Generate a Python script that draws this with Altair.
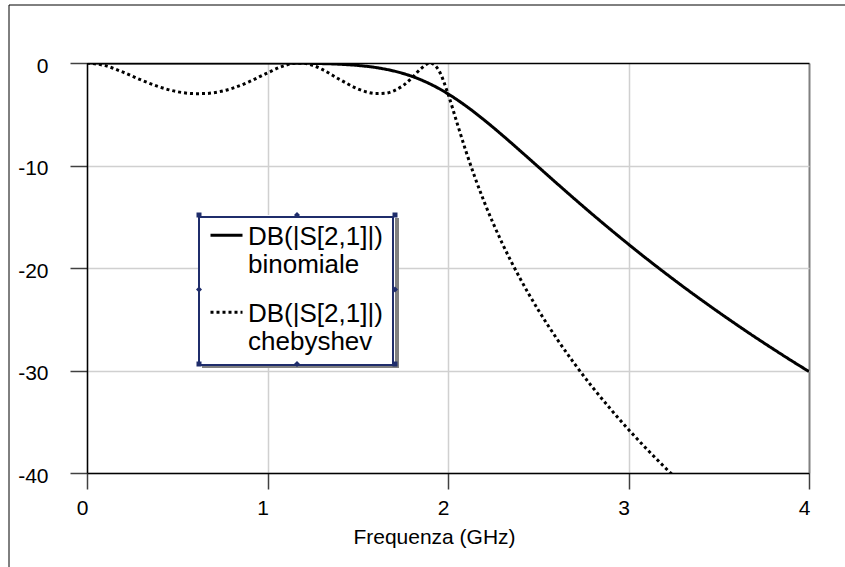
import altair as alt
import pandas as pd

# ---- data ----
SERIES = ["binomiale", "chebyshev"]
LABEL_PREFIX = "DB(|S[2,1]|)"
X_TITLE = "Frequenza (GHz)"
X_TICKS = [0, 1, 2, 3, 4]
Y_TICKS = [0, -10, -20, -30, -40]

FREQ_BIN = [0.0, 0.5, 1.0, 1.1, 1.2, 1.3, 1.4, 1.5, 1.6, 1.7, 1.8, 1.9, 2.0,
            2.1, 2.2, 2.3, 2.4, 2.5, 2.6, 2.7, 2.8, 2.9, 3.0, 3.1, 3.2, 3.3,
            3.4, 3.5, 3.6, 3.7, 3.8, 3.9, 4.0]
DB_BIN = [0.0, 0.0, -0.004, -0.011, -0.026, -0.058, -0.121, -0.238, -0.442,
          -0.782, -1.299, -2.037, -3.010, -4.198, -5.556, -7.029, -8.568,
          -10.134, -11.699, -13.244, -14.761, -16.241, -17.683, -19.09,
          -20.451, -21.78, -23.066, -24.32, -25.539, -26.73, -27.882, -29.01,
          -30.103]

FREQ_CHEB = [0.0, 0.1, 0.2, 0.3, 0.4, 0.5, 0.6, 0.65, 0.7, 0.8, 0.9, 1.0, 1.1,
             1.15, 1.2, 1.25, 1.3, 1.4, 1.5, 1.55, 1.6, 1.65, 1.7, 1.75, 1.8,
             1.85, 1.9, 1.95, 2.0, 2.05, 2.1, 2.15, 2.2, 2.3, 2.4, 2.5, 2.6,
             2.7, 2.8, 2.9, 3.0, 3.1, 3.2, 3.3]
DB_CHEB = [0.0, -0.257, -0.897, -1.659, -2.33, -2.80, -2.99, -2.984, -2.90,
           -2.50, -1.82, -0.965, -0.219, -0.027, -0.025, -0.226, -0.600,
           -1.607, -2.527, -2.832, -2.987, -2.958, -2.71, -2.211, -1.454,
           -0.552, -0.001, -0.750, -3.01, -5.84, -8.64, -11.20, -13.52,
           -17.57, -21.04, -24.09, -26.82, -29.32, -31.62, -33.75, -35.76,
           -37.64, -39.43, -41.12]

df = pd.concat([
    pd.DataFrame({"f": FREQ_BIN, "db": DB_BIN, "s": SERIES[0]}),
    pd.DataFrame({"f": FREQ_CHEB, "db": DB_CHEB, "s": SERIES[1]}),
], ignore_index=True)

FONT = "Liberation Sans"
NAVY = "#1f2d6b"
W, H = 722, 410

x_axis = alt.Axis(
    values=X_TICKS, format="d", title=X_TITLE, labelFlush=False,
    labelFont=FONT, labelFontSize=21, labelColor="black", labelPadding=8,
    labelOffset=-5, tickSize=16, tickColor="#404040", tickWidth=1.5,
    domainColor="black", domainWidth=1.5, grid=True,
    gridColor={"condition": {"test": "datum.value === 4", "value": "#808080"}, "value": "#d0d0d0"},
    gridWidth={"condition": {"test": "datum.value === 4", "value": 2}, "value": 1.5},
    titleFont=FONT, titleFontSize=21, titleFontWeight="normal", titleColor="black",
    titleX=347, titleY=70, titleBaseline="alphabetic", titleAlign="center",
)
y_axis = alt.Axis(
    values=Y_TICKS, labelExpr="'' + datum.value", title=None,
    labelFont=FONT, labelFontSize=21, labelColor="black", labelPadding=22,
    labelOffset=3, tickSize=17, tickColor="#404040", tickWidth=1.5,
    domainColor="black", domainWidth=1.5, grid=True,
    gridColor={"condition": {"test": "datum.value === 0", "value": "black"}, "value": "#d0d0d0"},
    gridWidth=1.5,
)

legend = alt.Legend(
    title=None, orient="none", legendX=112, legendY=154,
    labelExpr=f"['{LABEL_PREFIX} ', datum.label]",
    labelFont=FONT, labelFontSize=26, labelColor="black", labelBaseline="alphabetic",
    labelOffset=4, labelLimit=300,
    symbolType="M-1,-0.58H1", symbolSize=1024, symbolStrokeWidth=3,
    symbolStrokeColor="black",
    padding=10, rowPadding=22, strokeColor=NAVY,
)

lines = alt.Chart(df).mark_line(
    color="black", strokeWidth=3, clip=True, interpolate="monotone"
).encode(
    x=alt.X("f:Q", scale=alt.Scale(domain=[0, 4], nice=False), axis=x_axis),
    y=alt.Y("db:Q", scale=alt.Scale(domain=[-40, 0], nice=False), axis=y_axis),
    strokeDash=alt.StrokeDash(
        "s:N", scale=alt.Scale(domain=SERIES, range=[[1, 0], [3, 3]]), legend=legend
    ),
)

one = pd.DataFrame({"k": [0]})

# frame around the whole picture (extends past the right/bottom edge)
frame = alt.Chart(one).mark_rect(fillOpacity=0, stroke="black", strokeWidth=1).encode(
    x=alt.value(-78), x2=alt.value(1000), y=alt.value(-58), y2=alt.value(1000)
)

# legend box: shadow, white fill, selection handles
BX1, BX2, BY1, BY2 = 112, 308, 152, 301
shadow = alt.Chart(one).mark_rect(color="#808080").encode(
    x=alt.value(BX1 + 3), x2=alt.value(BX2 + 4), y=alt.value(BY1 + 3), y2=alt.value(BY2 + 4)
)
box = alt.Chart(one).mark_rect(color="white").encode(
    x=alt.value(BX1), x2=alt.value(BX2), y=alt.value(BY1), y2=alt.value(BY2)
)
handles = []
mx, my = (BX1 + BX2) / 2, (BY1 + BY2) / 2
for (hx, hy, shp, sz) in [
    (BX1, BY1, "square", 25), (BX2, BY1, "square", 25),
    (BX1, BY2, "square", 25), (BX2, BY2, "square", 25),
    (mx, BY1, "diamond", 36), (mx, BY2, "diamond", 36),
    (BX1, my, "diamond", 36), (BX2, my, "diamond", 36),
]:
    handles.append(
        alt.Chart(one).mark_point(shape=shp, size=sz, filled=True, color=NAVY, opacity=1).encode(
            x=alt.value(hx), y=alt.value(hy)
        )
    )

chart = alt.layer(frame, lines, shadow, box, *handles).properties(
    width=W, height=H,
    autosize=alt.AutoSizeParams(type="none"),
    padding={"left": 87, "top": 63, "right": 36, "bottom": 94},
    background="white",
).configure_view(stroke="transparent").configure_legend(strokeWidth=2)

chart.save("out.html", embed_options={"renderer": "svg", "actions": False})
